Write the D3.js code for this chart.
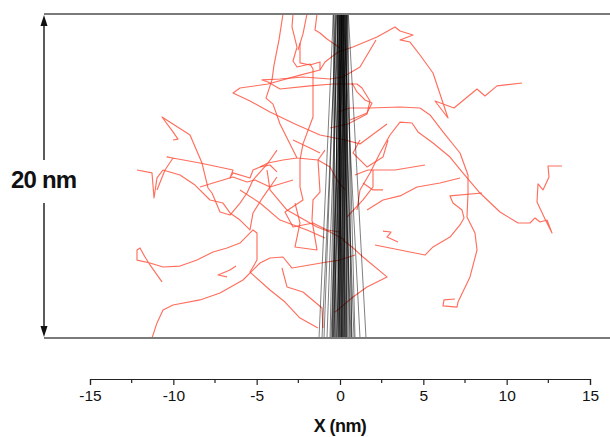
<!DOCTYPE html>
<html>
<head>
<meta charset="utf-8">
<script src="https://cdn.jsdelivr.net/npm/d3@7"></script>
<style>
  body { margin: 0; background: #fff; }
  text { font-family: "Liberation Sans", Arial, sans-serif; }
</style>
</head>
<body>
<svg id="chart" width="610" height="437"></svg>
<script>
// Flexible chains (red), traced as [x nm, height nm] vertices
const chainA = [[10.92,15.74],[9.42,15.56],[8.70,14.94],[8.22,15.37],[6.84,14.20],[5.70,14.63],[6.48,13.58],[5.88,15.43],[5.58,16.36],[4.80,17.47],[4.20,18.27],[3.60,18.40],[4.38,18.70],[3.60,18.95],[3.30,19.20],[2.22,18.58],[0.78,17.96],[-0.12,17.65],[-0.90,17.04],[-1.20,16.54]];
const chainB = [[2.16,18.40],[1.20,16.73],[0.18,16.11],[-0.60,15.99],[-2.22,16.11],[-3.60,15.99],[-4.68,15.93],[-4.32,15.80],[-3.60,15.37],[-1.80,15.56],[-0.42,15.68],[1.02,15.68],[1.32,15.43],[1.80,14.63],[1.62,13.83],[0.48,13.21],[-0.60,12.96]];
const chainC = [[-2.40,18.21],[-2.40,16.98],[-1.80,16.85],[-1.20,17.04],[-1.20,16.54],[-2.40,16.23],[-4.32,15.68],[-6.00,15.43],[-6.42,15.12],[-5.40,14.63],[-4.20,13.95],[-2.70,13.21],[-1.20,12.53],[0.30,12.22],[1.20,11.98],[2.82,13.21]];
const chainD = [[-3.42,20.00],[-3.66,18.40],[-3.96,16.85],[-4.08,15.93],[-4.44,14.81],[-4.02,14.44],[-3.60,13.21],[-3.00,11.98],[-2.58,11.11],[-1.32,10.99],[-0.60,10.56],[-0.18,9.75],[0.30,9.14]];
const chainE = [[-2.82,20.00],[-2.88,19.20],[-2.58,17.96],[-2.82,17.10],[-2.58,16.73],[-1.80,16.91],[-1.62,16.60],[-1.62,13.64],[-2.22,11.98],[-2.40,10.99],[-2.40,9.32],[-2.22,8.52],[-3.30,7.78],[-2.82,6.85],[-1.62,7.10],[-0.78,6.67],[0.00,6.54]];
const chainF = [[-10.02,12.22],[-9.72,12.28],[-10.02,12.72],[-10.68,13.64],[-9.00,12.53],[-8.28,10.80],[-7.92,9.26],[-7.68,8.95],[-7.20,7.78],[-6.60,7.59],[-6.00,8.33],[-5.58,8.95],[-5.22,9.75],[-4.32,10.80],[-3.78,11.60]];
const chainG = [[-10.98,9.14],[-10.50,10.37],[-10.02,11.11],[-10.38,11.17],[-8.40,10.80],[-6.42,10.37],[-6.60,9.88],[-6.42,10.19],[-5.40,9.88],[-5.22,10.37],[-4.80,10.56],[-4.32,10.80],[-3.42,10.99],[-2.58,11.11]];
const chainH = [[-12.18,10.37],[-11.28,10.19],[-11.16,8.64],[-10.98,9.88],[-10.62,10.37],[-9.60,10.06],[-8.70,9.44],[-7.80,8.52],[-7.02,8.33],[-6.60,7.72],[-6.00,7.28],[-5.40,6.67],[-5.22,7.72],[-4.62,8.70],[-3.78,9.94]];
const chainI = [[-10.68,3.46],[-11.40,4.51],[-11.70,5.00],[-12.00,5.56],[-12.18,5.43],[-12.18,4.81],[-11.40,4.63],[-10.62,4.38],[-9.60,4.44],[-8.58,4.81],[-7.62,5.31],[-6.78,5.56],[-6.00,5.86],[-5.22,6.67],[-4.98,6.48],[-4.98,4.81],[-5.40,4.07],[-4.20,2.96],[-3.30,2.22],[-2.40,1.23],[-1.32,0.62]];
const chainJ = [[-11.28,0.00],[-10.98,0.93],[-10.62,1.73],[-10.02,2.04],[-8.40,2.35],[-7.20,2.78],[-5.82,3.58],[-4.80,4.63],[-4.20,4.94],[-3.42,5.00],[-2.88,4.32],[-0.78,4.69],[0.00,4.81],[0.90,5.12]];
const chainK = [[-3.48,4.32],[-3.18,3.15],[-2.22,2.84],[-1.08,1.85],[-1.02,0.62]];
const chainL = [[-6.78,3.77],[-7.32,3.89],[-6.60,4.20],[-6.24,4.44]];
const chainM = [[-2.70,8.33],[-2.40,7.10],[-2.70,5.62],[-1.38,5.43],[-1.68,7.28],[-1.62,8.52],[-1.20,9.01],[-1.32,10.99],[-0.90,11.60]];
const chainN = [[-4.38,10.37],[-4.20,9.14],[-3.18,7.90],[-1.38,6.85],[-0.60,6.54],[0.30,6.05]];
const chainO = [[-6.00,9.14],[-4.80,8.33],[-3.60,7.28],[-1.98,6.67],[-0.90,6.17]];
const chainP = [[1.02,7.90],[1.20,9.14],[1.80,10.19],[2.40,11.42],[3.00,12.53],[3.60,13.33],[4.32,13.27],[4.68,12.72],[5.58,12.04],[6.60,11.17],[7.32,10.25],[8.40,8.95],[9.60,7.78],[10.68,7.10],[11.40,7.10],[11.70,7.41],[12.00,7.16],[12.42,7.28],[12.72,6.48],[12.30,7.35],[11.82,8.40],[11.88,9.51],[12.18,9.14],[12.54,9.94],[12.48,10.62],[13.32,10.62]];
const chainQ = [[-0.12,13.95],[0.60,14.20],[1.80,14.20],[3.60,14.26],[4.80,14.20],[5.40,13.77],[6.18,12.72],[7.20,11.42],[7.68,10.06],[7.68,8.95],[7.62,7.47],[8.10,6.48],[8.22,5.43],[7.80,3.77],[7.08,2.22],[7.02,1.91],[6.18,1.98],[6.24,2.35],[6.90,2.41]];
const chainR = [[-0.30,1.60],[0.78,2.53],[1.62,3.15],[2.82,3.77],[1.38,5.00],[0.72,5.62],[0.18,6.05]];
const chainS = [[2.10,5.74],[3.60,5.43],[5.10,5.12],[5.58,5.62],[6.60,6.23],[7.20,6.98],[7.44,7.41],[7.32,7.90],[6.78,8.33],[6.60,8.77],[8.52,8.95]];
const chainT = [[1.62,7.90],[2.58,8.52],[3.60,8.77],[4.62,9.32],[6.00,9.57],[7.20,9.88]];
const chainU = [[5.10,10.68],[3.30,10.37],[1.68,10.37],[0.90,10.06]];
const chainV = [[2.58,6.60],[3.06,6.54],[2.82,6.23],[3.48,5.93]];
const chainW = [[0.72,15.74],[1.02,15.19],[1.50,14.69],[1.92,14.51],[1.62,13.89],[0.60,13.46]];
const chainX = [[0.42,7.47],[1.38,8.52],[1.98,9.32],[1.98,10.37]];
const chainY = [[-1.98,20.00],[-2.22,18.77],[-2.52,17.78]];
const chainZ = [[-1.38,20.00],[-1.50,19.01],[-1.20,18.83],[-0.78,18.46],[0.00,17.90]];
const chainAA = [[-8.40,9.32],[-7.62,9.57],[-6.42,9.94],[-5.58,9.63],[-5.10,9.75],[-4.20,9.32],[-2.82,9.75]];
const chainAB = [[-4.80,10.56],[-4.20,10.68],[-3.78,10.25]];
const chainAC = [[-2.82,12.22],[-1.80,11.73],[-1.20,11.42]];
const chainAD = [[2.88,12.22],[2.58,11.17],[1.62,10.56],[0.78,11.42],[1.20,12.22]];
const chainAE = [[1.38,9.57],[1.98,9.14],[2.58,9.14]];

const redChains = [chainA, chainB, chainC, chainD, chainE, chainF, chainG, chainH, chainI,
  chainJ, chainK, chainL, chainM, chainN, chainO, chainP, chainQ, chainR, chainS, chainT,
  chainU, chainV, chainW, chainX, chainY, chainZ, chainAA, chainAB, chainAC, chainAD, chainAE];

// Stiff chains (black): x position (nm) at the top and at the bottom of the slab
const stiffTopX    = [-0.40,-0.20,-0.25,-0.10,-0.15,0.00,-0.05,0.10,-0.12,0.05,0.15,-0.02,0.20,0.08,0.25,0.00,0.12,0.30,0.18,0.05,0.22,0.35,0.10,0.28,0.40,0.20,0.50,-0.08,0.15,0.32,-0.18,0.38,0.02,0.26,-0.06,0.12,
                      -0.40,0.42,-0.35,0.45,-0.28,0.38,0.00,0.20,-0.15,0.30,0.10,0.48];
const stiffBottomX = [-1.26,-1.08,-0.96,-0.78,-0.60,-0.48,-0.42,-0.36,-0.30,-0.24,-0.18,-0.12,-0.06,0.00,0.06,0.12,0.18,0.24,0.30,0.36,0.42,0.48,0.60,0.72,0.90,1.20,1.56,0.30,-0.54,0.10,0.20,-0.20,0.66,-0.40,0.05,0.84,
                      -0.30,0.35,0.00,0.15,-0.45,0.55,-0.05,0.25,0.10,0.40,-0.10,0.70];

// Axis
const xTicks = [-15, -10, -5, 0, 5, 10, 15];
const xMinorTicks = [-12.5, -7.5, -2.5, 2.5, 7.5, 12.5];
const slabHeight = 20;
const slabLabel = "20 nm";
const xTitle = "X (nm)";

const svg = d3.select("#chart");
const x = d3.scaleLinear().domain([-15, 15]).range([90, 590]);
const y = d3.scaleLinear().domain([0, slabHeight]).range([338, 14]);

const boxLeft = 44, boxRight = 610;

svg.append("defs").append("clipPath").attr("id", "slab")
  .append("rect").attr("x", boxLeft).attr("y", y(slabHeight))
  .attr("width", boxRight - boxLeft).attr("height", y(0) - y(slabHeight));

const plot = svg.append("g").attr("clip-path", "url(#slab)");
const line = d3.line().x(d => x(d[0])).y(d => y(d[1]));

// red flexible chains
plot.append("g").selectAll("path").data(redChains).join("path")
  .attr("d", line)
  .attr("fill", "none")
  .attr("stroke", "#ff4a35")
  .attr("stroke-opacity", 0.8)
  .attr("stroke-width", 1.15)
  .attr("stroke-linejoin", "round");

// black stiff chains
const stiff = stiffTopX.map((t, i) => [[t, slabHeight], [stiffBottomX[i], 0]]);
plot.append("g").selectAll("path").data(stiff).join("path")
  .attr("d", line)
  .attr("fill", "none")
  .attr("stroke", "#000")
  .attr("stroke-opacity", 0.5)
  .attr("stroke-width", 1);

// slab walls
svg.append("line").attr("x1", boxLeft).attr("x2", boxRight)
  .attr("y1", y(slabHeight)).attr("y2", y(slabHeight))
  .attr("stroke", "#7a7a7a").attr("stroke-width", 2);
svg.append("line").attr("x1", boxLeft).attr("x2", boxRight)
  .attr("y1", y(0)).attr("y2", y(0))
  .attr("stroke", "#7a7a7a").attr("stroke-width", 2);

// double arrow marking slab thickness
const ax = boxLeft;
const arrowColor = "#333";
svg.append("line").attr("x1", ax).attr("x2", ax).attr("y1", y(slabHeight) + 8).attr("y2", 160)
  .attr("stroke", arrowColor).attr("stroke-width", 1.6);
svg.append("line").attr("x1", ax).attr("x2", ax).attr("y1", 203).attr("y2", y(0) - 8)
  .attr("stroke", arrowColor).attr("stroke-width", 1.6);
svg.append("path")
  .attr("d", `M${ax},${y(slabHeight) + 1}L${ax - 3.5},${y(slabHeight) + 12}L${ax + 3.5},${y(slabHeight) + 12}Z`)
  .attr("fill", "#111");
svg.append("path")
  .attr("d", `M${ax},${y(0) - 1}L${ax - 3.5},${y(0) - 12}L${ax + 3.5},${y(0) - 12}Z`)
  .attr("fill", "#111");
svg.append("text").attr("x", 11).attr("y", 188)
  .attr("font-size", 24).attr("font-weight", "bold").attr("letter-spacing", -0.8)
  .attr("fill", "#111").text(slabLabel);

// x axis
const axisY = 379;
const gx = svg.append("g").attr("transform", `translate(0,${axisY})`)
  .call(d3.axisBottom(x).tickValues(xTicks).tickFormat(d => String(d)).tickSize(6).tickPadding(5));
gx.selectAll(".domain").attr("stroke", "#222").attr("stroke-width", 1.2);
gx.selectAll(".tick line").attr("stroke", "#222").attr("stroke-width", 1.2);
gx.selectAll(".tick text").attr("font-family", "'Liberation Sans', Arial, sans-serif")
  .attr("font-size", 15.5).attr("fill", "#111");
gx.append("g").selectAll("line").data(xMinorTicks).join("line")
  .attr("x1", d => x(d)).attr("x2", d => x(d)).attr("y1", 0).attr("y2", 4)
  .attr("stroke", "#222").attr("stroke-width", 1.2);

svg.append("text").attr("x", x(0)).attr("y", 432).attr("text-anchor", "middle")
  .attr("font-size", 18).attr("font-weight", "bold").attr("letter-spacing", -0.6)
  .attr("fill", "#111").text(xTitle);
</script>
</body>
</html>
